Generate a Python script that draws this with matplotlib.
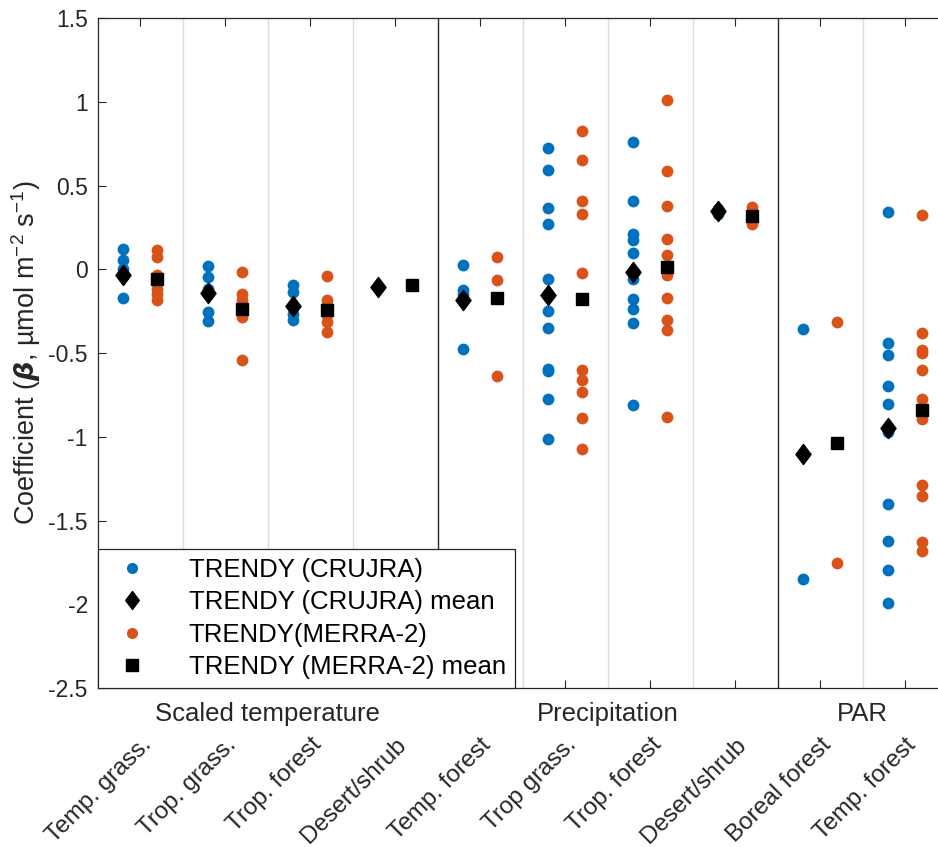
import matplotlib
matplotlib.use("Agg")
import matplotlib.pyplot as plt
import numpy as np
from matplotlib.path import Path
from matplotlib.lines import Line2D

plt.rcParams['font.family'] = ['Liberation Sans', 'DejaVu Sans']
plt.rcParams['axes.unicode_minus'] = False
plt.rcParams['mathtext.fontset'] = 'custom'
plt.rcParams['mathtext.rm'] = 'Liberation Sans'
plt.rcParams['mathtext.it'] = 'Liberation Sans:italic'
plt.rcParams['mathtext.bf'] = 'Liberation Sans:bold'
plt.rcParams['mathtext.bfit'] = 'DejaVu Sans:bold:italic'

categories = ["Temp. grass.", "Trop. grass.", "Trop. forest", "Desert/shrub",
              "Temp. forest", "Trop grass.", "Trop. forest", "Desert/shrub",
              "Boreal forest", "Temp. forest"]
sections = ["Scaled temperature", "Precipitation", "PAR"]
section_sizes = [4, 4, 2]

crujra = [
    [0.118, 0.058, 0.004, -0.03, -0.171],
    [0.018, -0.046, -0.115, -0.145, -0.255, -0.309],
    [-0.096, -0.135, -0.225, -0.265, -0.304],
    [-0.105],
    [0.024, -0.125, -0.145, -0.474],
    [0.726, 0.591, 0.368, 0.273, -0.060, -0.155, -0.249, -0.348, -0.593, -0.607, -0.772, -1.011],
    [0.760, 0.406, 0.209, 0.177, 0.097, -0.016, -0.056, -0.175, -0.235, -0.320, -0.808],
    [0.36, 0.33],
    [-0.358, -1.851],
    [0.342, -0.438, -0.509, -0.699, -0.802, -0.971, -1.399, -1.622, -1.797, -1.992],
]
merra = [
    [0.113, 0.073, -0.036, -0.115, -0.145, -0.185],
    [-0.016, -0.149, -0.185, -0.235, -0.285, -0.543],
    [-0.042, -0.185, -0.215, -0.245, -0.275, -0.315, -0.374],
    [-0.092],
    [0.073, -0.062, -0.169, -0.639],
    [0.824, 0.655, 0.408, 0.332, -0.020, -0.175, -0.603, -0.663, -0.732, -0.891, -1.076],
    [1.009, 0.587, 0.378, 0.183, 0.088, 0.014, -0.032, -0.169, -0.300, -0.364, -0.882],
    [0.372, 0.316, 0.269],
    [-0.315, -1.753],
    [0.322, -0.380, -0.480, -0.500, -0.599, -0.772, -0.842, -0.897, -1.290, -1.355, -1.628, -1.682],
]
crujra_mean = [-0.036, -0.141, -0.221, -0.105, -0.181, -0.153, -0.016, 0.348, -1.104, -0.945]
merra_mean = [-0.056, -0.235, -0.245, -0.092, -0.169, -0.175, 0.014, 0.316, -1.035, -0.842]

yticks = [-2.5, -2, -1.5, -1, -0.5, 0, 0.5, 1, 1.5]
ytick_labels = ["-2.5", "-2", "-1.5", "-1", "-0.5", "0", "0.5", "1", "1.5"]

BLUE = "#0072BD"
ORANGE = "#D95319"
AX = "#262626"
FS = 18.5
FSX = 17.5
FSY = 16.5

diamond = Path([(0, 1), (0.75, 0), (0, -1), (-0.75, 0), (0, 1)],
               [Path.MOVETO, Path.LINETO, Path.LINETO, Path.LINETO, Path.CLOSEPOLY])

W, H = 938, 847
fig = plt.figure(figsize=(W / 100, H / 100), dpi=100)
ax = fig.add_axes([97.5 / W, 1 - 688 / H, 850 / W, 670 / H])

n = len(categories)
xs = np.arange(1, n + 1)
off = 0.2

# separators
bounds = np.cumsum(section_sizes)[:-1]
for b in np.arange(1.5, n, 1.0):
    if any(abs(b - (bb + 0.5)) < 1e-9 for bb in bounds):
        ax.axvline(b, color=AX, lw=1.0, zorder=1)
    else:
        ax.axvline(b, color="#dcdcdc", lw=1.0, zorder=1)

for i in range(n):
    ax.plot(np.full(len(crujra[i]), xs[i] - off), crujra[i], 'o', color=BLUE,
            ms=8.5, mec='none', zorder=3)
    ax.plot(np.full(len(merra[i]), xs[i] + off), merra[i], 'o', color=ORANGE,
            ms=8.5, mec='none', zorder=3)
ax.plot(xs - off, crujra_mean, linestyle='none', marker=diamond, color='black',
        ms=14.5, mec='black', zorder=4)
ax.plot(xs + off, merra_mean, 's', color='black', ms=8.5, zorder=4)

ax.set_xlim(0.5, n + 0.5)
ax.set_ylim(-2.5, 1.5)
ax.set_yticks(yticks)
ax.set_yticklabels(ytick_labels)
ax.set_xticks(xs)
ax.set_xticklabels(categories, rotation=45, ha='right', va='top',
                   rotation_mode='anchor')
ax.tick_params(axis='both', direction='in', length=6, width=0.8, colors=AX,
               top=True, right=True)
ax.tick_params(axis='x', pad=33, labelsize=FSX)
ax.tick_params(axis='y', pad=7, labelsize=FSY)
for s in ax.spines.values():
    s.set_color(AX)
    s.set_linewidth(0.9)

ax.set_ylabel(r"Coefficient ($\mathbfit{\beta}$, µmol m$^{-2}$ s$^{-1}$)",
              fontsize=19.5, color=AX, labelpad=4)

# section labels
start = 0
for name, size in zip(sections, section_sizes):
    center = start + (size + 1) / 2.0
    ax.annotate(name, xy=(center, 0), xycoords=('data', 'axes fraction'),
                xytext=(0, -10), textcoords='offset points', ha='center', va='top',
                fontsize=FS, color=AX, annotation_clip=False)
    start += size

handles = [
    Line2D([], [], ls='none', marker='o', color=BLUE, ms=8, mec='none'),
    Line2D([], [], ls='none', marker=diamond, color='black', ms=13),
    Line2D([], [], ls='none', marker='o', color=ORANGE, ms=8, mec='none'),
    Line2D([], [], ls='none', marker='s', color='black', ms=8),
]
labels = ["TRENDY (CRUJRA)", "TRENDY (CRUJRA) mean", "TRENDY(MERRA-2)",
          "TRENDY (MERRA-2) mean"]
leg = ax.legend(handles, labels, loc='lower left', bbox_to_anchor=(0, 0),
                borderaxespad=0, fancybox=False, framealpha=1, edgecolor=AX,
                fontsize=FS, handlelength=2.0, handletextpad=1.2,
                labelspacing=0.33, borderpad=0.35)
leg.get_frame().set_linewidth(0.9)
leg.set_zorder(10)

fig.savefig("out.png", dpi=100)
